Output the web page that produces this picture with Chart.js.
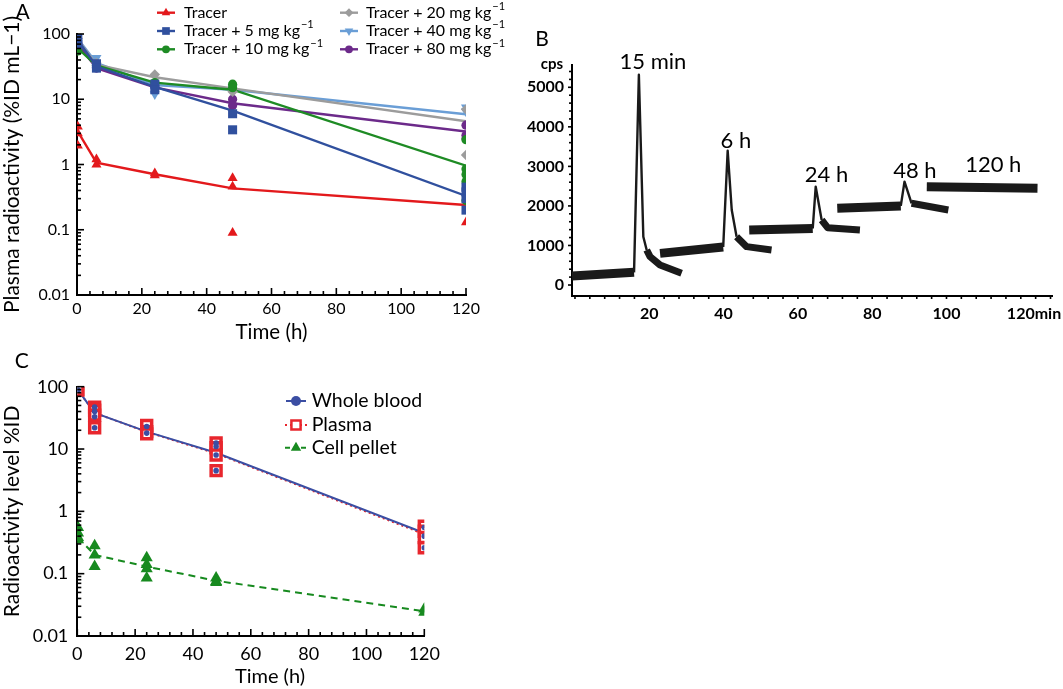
<!DOCTYPE html>
<html><head><meta charset="utf-8">
<script src="https://cdn.jsdelivr.net/npm/chart.js@4.4.1/dist/chart.umd.min.js"></script>
<style>
html,body{margin:0;padding:0;background:#fff}
#wrap{position:relative;width:1063px;height:689px;overflow:hidden;background:#fff}
canvas{position:absolute}
</style></head><body>
<div id="wrap">
<canvas id="chartA" width="520" height="345" style="left:0;top:0"></canvas>
<canvas id="chartB" width="553" height="345" style="left:510px;top:0"></canvas>
<canvas id="chartC" width="470" height="344" style="left:0;top:345px"></canvas>
</div>
<script>
const FONT = 'Lato, "Open Sans", sans-serif';

// ---------------- Panel A data ----------------
const hoursA = [0.25, 6, 24, 48, 120];
const tracerMean = [3.2, 1.07, 0.71, 0.43, 0.24];
const dose5Mean  = [80, 32, 15.5, 6.7, 0.33];
const dose10Mean = [60, 33, 18, 14, 0.96];
const dose20Mean = [82, 34, 21.7, 14.7, 4.6];
const dose40Mean = [85, 36, 16.5, 14, 5.9];
const dose80Mean = [70, 30, 15.2, 8.7, 3.2];
const tracerObs = [[0.25,3.8],[0.25,3.0],[0.25,1.95],[6,1.2],[6,1.0],[24,0.73],[24,0.68],[48,0.62],[48,0.46],[48,0.09],[120,0.13]];
const dose5Obs  = [[0.25,85],[0.25,70],[6,35],[6,30],[24,17],[24,14],[48,6],[48,3.4],[120,0.45],[120,0.38],[120,0.3],[120,0.2]];
const dose10Obs = [[0.25,55],[6,33],[24,18],[48,17],[48,15],[120,2.4],[120,0.85],[120,0.7],[120,0.55],[120,0.28]];
const dose20Obs = [[0.25,85],[6,36],[24,24],[48,13],[120,7],[120,1.4]];
const dose40Obs = [[0.25,95],[6,43],[24,12],[48,15],[120,7.5],[120,6.5]];
const dose80Obs = [[0.25,70],[6,30],[24,16],[48,10],[48,8],[120,4],[120,2.8],[120,2.5]];
const labelsA = ['Tracer','Tracer + 5 mg kg⁻¹','Tracer + 10 mg kg⁻¹','Tracer + 20 mg kg⁻¹','Tracer + 40 mg kg⁻¹','Tracer + 80 mg kg⁻¹'];
const logTickValues = [0.01, 0.1, 1, 10, 100];
const hourTickValues = [0, 20, 40, 60, 80, 100, 120];

// ---------------- Panel B data (radio-HPLC trace, min vs cps) ----------------
const run1Base = [[-0.8,230],[15.9,320]];
const run1Peak = [[15.9,320],[17.2,5316],[18.4,1222],[19.3,885]];
const run1Tail = [[19.3,885],[20.2,717],[22.9,506],[28.7,296]];
const run2Base = [[22.9,800],[39.9,960]];
const run2Peak = [[39.9,960],[41.1,3397],[42.2,1897],[43.5,1222]];
const run2Tail = [[43.5,1222],[46.2,970],[52.9,885]];
const run3Base = [[46.9,1391],[64.0,1430]];
const run3Peak = [[64.0,1430],[64.8,2487],[66.4,1644]];
const run3Tail = [[66.4,1644],[68.0,1450],[76.7,1391]];
const run4Base = [[70.6,1940],[87.7,2000]];
const run4Peak = [[87.7,2000],[88.7,2613],[90.6,2066]];
const run4Tail = [[90.6,2066],[100.5,1897]];
const run5Base = [[94.7,2487],[124.5,2445]];
const minuteTickValues = [20, 40, 60, 80, 100, 120];
const cpsTickValues = [0, 1000, 2000, 3000, 4000, 5000];
const peakLabels = ['15 min', '6 h', '24 h', '48 h', '120 h'];
const peakLabelAt = [[21.0,5640],[43.3,3641],[67.7,2782],[91.5,2890],[112.6,3035]];

// ---------------- Panel C data ----------------
const hoursC = [0.25, 6, 24, 48, 120];
const bloodMean  = [88, 38, 19, 8.7, 0.45];
const plasmaMean = [88, 38, 18.8, 8.5, 0.43];
const pelletMean = [0.38, 0.2, 0.13, 0.077, 0.025];
const bloodObs  = [[0.25,88],[6,47],[6,40],[6,33],[6,22],[24,23],[24,18],[48,12.5],[48,11],[48,8],[48,4.5],[120,0.55],[120,0.4],[120,0.26]];
const plasmaObs = [[0.25,88],[6,47],[6,42],[6,35],[6,22],[24,24],[24,19],[24,17.5],[48,12.5],[48,10.5],[48,8],[48,4.5],[120,0.58],[120,0.48],[120,0.38],[120,0.26]];
const pelletObs = [[0.25,0.55],[0.25,0.45],[0.25,0.38],[0.25,0.35],[6,0.28],[6,0.2],[6,0.13],[24,0.18],[24,0.14],[24,0.12],[24,0.085],[48,0.085],[48,0.075],[48,0.072],[120,0.027],[120,0.024]];
const labelsC = ['Whole blood', 'Plasma', 'Cell pellet'];

// ---------------- helpers ----------------
const toXY = pairs => pairs.map(([x, y]) => ({x, y}));
const zipXY = (xs, ys) => xs.map((x, i) => ({x, y: ys[i]}));

function drawTextSup(ctx, text, x, y, size) {
  const m = text.match(/^(.*?)(⁻¹)$/);
  ctx.font = size + 'px ' + FONT;
  ctx.textAlign = 'left'; ctx.textBaseline = 'middle';
  if (!m) { ctx.fillText(text, x, y); return; }
  ctx.fillText(m[1], x, y);
  const w = ctx.measureText(m[1]).width;
  ctx.font = Math.round(size * 0.68) + 'px ' + FONT;
  ctx.fillText('−1', x + w + 1, y - size * 0.38);
}

function marker(ctx, style, rot, r, x, y, fill, stroke, bw) {
  ctx.save();
  ctx.fillStyle = fill; ctx.strokeStyle = stroke; ctx.lineWidth = bw;
  Chart.helpers.drawPoint(ctx, {pointStyle: style, rotation: rot, radius: r, borderWidth: bw}, x, y);
  ctx.restore();
}

function seg(ctx, x1, y1, x2, y2) {
  ctx.beginPath(); ctx.moveTo(x1, y1); ctx.lineTo(x2, y2); ctx.stroke();
}

function logMinor(min, max) {
  const out = [];
  for (let d = min; d < max * 1.001; d *= 10) {
    for (let k = 1; k <= 9; k++) { const v = +(k * d).toPrecision(3); if (v <= max * 1.0001) out.push([v, k === 1]); }
  }
  return out;
}

// tick marks drawn through each chart's own scales
function tickPlugin(name, spec) {
  return {
    id: 'ticks' + name,
    afterDraw(chart) {
      const ctx = chart.ctx, xs = chart.scales.x, ys = chart.scales.y, a = chart.chartArea;
      ctx.save();
      ctx.fillStyle = '#000';
      spec.xMarks.forEach(mk => {
        const px = xs.getPixelForValue(mk[0]);
        const len = mk[1] ? spec.xMajor : spec.xMinor;
        ctx.fillRect(px - 0.8, spec.xDir < 0 ? a.bottom - len : a.bottom, 1.6, len);
      });
      spec.yMarks.forEach(mk => {
        const py = ys.getPixelForValue(mk[0]);
        const len = mk[1] ? spec.yMajor : spec.yMinor;
        ctx.fillRect(spec.yDir < 0 ? a.left - len : a.left, py - 0.8, len, 1.6);
      });
      ctx.restore();
    }
  };
}

function decor(cfg) {
  return {
    id: 'decor' + cfg.name,
    afterDraw(chart) {
      const ctx = chart.ctx, xs = chart.scales.x, ys = chart.scales.y, a = chart.chartArea;
      ctx.save();
      if (cfg.extra) cfg.extra(chart, ctx, xs, ys, a);
      ctx.font = cfg.letterSize + 'px ' + FONT;
      ctx.textAlign = 'center'; ctx.textBaseline = 'middle';
      ctx.fillStyle = '#000';
      ctx.fillText(cfg.letter, cfg.letterX, cfg.letterY);
      ctx.restore();
    }
  };
}

function fixedWidth(w) { return s => { s.width = w; }; }
function fixedHeight(h) { return s => { s.height = h; }; }
const setTicks = vals => s => { s.ticks = vals.map(v => ({value: v})); };

// ---------------- Chart A ----------------
const colA = ['#E3191C', '#30509E', '#1E8B24', '#9C9C9C', '#6A9ED6', '#6C2A8A'];
const styleA = [['triangle',0,5.8],['rect',0,6.4],['circle',0,4.6],['rectRot',0,5.2],['triangle',180,5.8],['circle',0,4.6]];
const meansA = [tracerMean, dose5Mean, dose10Mean, dose20Mean, dose40Mean, dose80Mean];
const obsA = [tracerObs, dose5Obs, dose10Obs, dose20Obs, dose40Obs, dose80Obs];
const dsA = [];
meansA.forEach((mean, i) => {
  dsA.push({label: labelsA[i], data: zipXY(hoursA, mean), showLine: true, borderColor: colA[i], backgroundColor: colA[i],
    borderWidth: 2.4, pointRadius: 0, order: 10 + i});
  dsA.push({label: labelsA[i] + ' (individual)', data: toXY(obsA[i]), showLine: false, pointStyle: styleA[i][0], pointRotation: styleA[i][1],
    pointRadius: styleA[i][2], backgroundColor: colA[i], borderColor: colA[i], borderWidth: 0, order: 5 + i});
});
const hourMarks = []; for (let v = 0; v <= 120; v += 4) hourMarks.push([v, v % 20 === 0]);

new Chart(document.getElementById('chartA'), {
  type: 'scatter',
  data: {datasets: dsA},
  options: {
    responsive: false, animation: false, devicePixelRatio: 1,
    layout: {padding: {left: 0, top: 34, right: 54, bottom: 0}},
    plugins: {legend: {display: false}, tooltip: {enabled: false}},
    scales: {
      x: {type: 'linear', min: 0, max: 120, afterBuildTicks: setTicks(hourTickValues), afterFit: fixedHeight(50),
        grid: {display: false, drawTicks: false}, border: {display: true, color: '#000', width: 2},
        ticks: {font: {family: FONT, size: 16}, color: '#000', padding: 4, maxRotation: 0, autoSkip: false},
        title: {display: true, text: 'Time (h)', font: {family: FONT, size: 20.5}, color: '#000', padding: 0}},
      y: {type: 'logarithmic', min: 0.01, max: 100, afterBuildTicks: setTicks(logTickValues), afterFit: fixedWidth(77),
        grid: {display: false, drawTicks: false}, border: {display: true, color: '#000', width: 2},
        ticks: {font: {family: FONT, size: 16}, color: '#000', padding: 7, autoSkip: false, callback: v => String(v)},
        title: {display: true, text: 'Plasma radioactivity (%ID mL−1)', font: {family: FONT, size: 21}, color: '#000', padding: {top: 0, bottom: 0}}}
    }
  },
  plugins: [
    tickPlugin('A', {xMarks: hourMarks, xMajor: 7, xMinor: 4, xDir: -1, yMarks: logMinor(0.01, 100), yMajor: 7, yMinor: 4, yDir: 1}),
    decor({name: 'A', letter: 'A', letterX: 22.5, letterY: 12, letterSize: 21,
    extra: (chart, ctx) => {
      const cols = [[157, 175, 166, 184], [340, 358, 349, 366]];
      const rows = [12.7, 31, 49.3];
      labelsA.forEach((lab, i) => {
        const c = cols[Math.floor(i / 3)], y = rows[i % 3];
        ctx.strokeStyle = colA[i]; ctx.lineWidth = 2.4;
        seg(ctx, c[0], y, c[1], y);
        marker(ctx, styleA[i][0], styleA[i][1], styleA[i][2] * 0.85, c[2], y, colA[i], colA[i], 0);
        ctx.fillStyle = '#000';
        drawTextSup(ctx, lab, c[3], y, 16);
      });
    }})]
});

// ---------------- Chart B ----------------
const thick = 9, thin = 2.4;
const runSets = [
  [run1Base, thick], [run1Peak, thin], [run1Tail, 7],
  [run2Base, thick], [run2Peak, thin], [run2Tail, 7],
  [run3Base, thick], [run3Peak, thin], [run3Tail, 7],
  [run4Base, thick], [run4Peak, thin], [run4Tail, 7],
  [run5Base, thick]
];
const dsB = runSets.map(([pts, w], i) => ({label: 'run' + i, data: toXY(pts), showLine: true, borderColor: '#1a1a1a', backgroundColor: '#1a1a1a',
  borderWidth: w, pointRadius: 0, borderJoinStyle: 'round', borderCapStyle: 'butt'}));
const minMarks = []; for (let v = 0; v <= 128; v += 4) minMarks.push([v, v % 20 === 0]);
const cpsMarks = []; for (let v = 0; v <= 5400; v += 200) cpsMarks.push([v, v % 1000 === 0]);

new Chart(document.getElementById('chartB'), {
  type: 'scatter',
  data: {datasets: dsB},
  options: {
    responsive: false, animation: false, devicePixelRatio: 1,
    layout: {padding: {left: 0, top: 65, right: 11, bottom: 0}},
    plugins: {legend: {display: false}, tooltip: {enabled: false}},
    scales: {
      x: {type: 'linear', min: -0.8, max: 128.4, afterBuildTicks: setTicks(minuteTickValues), afterFit: fixedHeight(49),
        grid: {display: false, drawTicks: false}, border: {display: true, color: '#000', width: 2},
        ticks: {font: {family: FONT, size: 16, weight: 'bold'}, color: '#000', padding: 8, maxRotation: 0, autoSkip: false, callback: v => String(v)}},
      y: {type: 'linear', min: -278, max: 5564, afterBuildTicks: setTicks(cpsTickValues), afterFit: fixedWidth(62),
        grid: {display: false, drawTicks: false}, border: {display: true, color: '#000', width: 2},
        ticks: {font: {family: FONT, size: 16, weight: 'bold'}, color: '#000', padding: 8, autoSkip: false, callback: v => String(v)}}
    }
  },
  plugins: [
    tickPlugin('B', {xMarks: minMarks, xMajor: 3, xMinor: 3, xDir: 1, yMarks: cpsMarks, yMajor: 4, yMinor: 3, yDir: -1}),
    decor({name: 'B', letter: 'B', letterX: 32, letterY: 39, letterSize: 21,
    extra: (chart, ctx, xs, ys, a) => {
      ctx.fillStyle = '#000';
      ctx.font = 'bold 15px ' + FONT; ctx.textAlign = 'right'; ctx.textBaseline = 'middle';
      ctx.fillText('cps', a.left - 9, 64);
      ctx.font = 'bold 16px ' + FONT; ctx.textAlign = 'left';
      const lastV = minuteTickValues[minuteTickValues.length - 1];
      const px = xs.getPixelForValue(lastV) + ctx.measureText(String(lastV)).width / 2;
      ctx.fillText('min', px, a.bottom + 17.5);
      ctx.font = '22px ' + FONT; ctx.textAlign = 'center';
      peakLabels.forEach((t, i) => ctx.fillText(t, xs.getPixelForValue(peakLabelAt[i][0]), ys.getPixelForValue(peakLabelAt[i][1])));
    }})]
});

// ---------------- Chart C ----------------
const colC = ['#3B4EA3', '#E8262D', '#178A1F'];
const dsC = [
  {label: labelsC[0] + ' (individual)', data: toXY(bloodObs), showLine: false, pointStyle: 'circle', pointRadius: 2.8,
    backgroundColor: colC[0], borderColor: colC[0], borderWidth: 0, order: 1},
  {label: labelsC[1] + ' (individual)', data: toXY(plasmaObs), showLine: false, pointStyle: 'rect', pointRadius: 7,
    backgroundColor: '#fff', borderColor: colC[1], borderWidth: 3.5, order: 2},
  {label: labelsC[0], data: zipXY(hoursC, bloodMean), showLine: true, borderColor: colC[0], borderWidth: 2, pointRadius: 0, order: 3},
  {label: labelsC[1], data: zipXY(hoursC, plasmaMean), showLine: true, borderColor: colC[1], borderWidth: 2, borderDash: [2, 3], pointRadius: 0, order: 4},
  {label: labelsC[2] + ' (individual)', data: toXY(pelletObs), showLine: false, pointStyle: 'triangle', pointRadius: 7,
    backgroundColor: colC[2], borderColor: colC[2], borderWidth: 0, order: 5},
  {label: labelsC[2], data: zipXY(hoursC, pelletMean), showLine: true, borderColor: colC[2], borderWidth: 2, borderDash: [7, 5], pointRadius: 0, order: 6}
];

new Chart(document.getElementById('chartC'), {
  type: 'scatter',
  data: {datasets: dsC},
  options: {
    responsive: false, animation: false, devicePixelRatio: 1,
    layout: {padding: {left: 0, top: 41.7, right: 45.7, bottom: 0}},
    plugins: {legend: {display: false}, tooltip: {enabled: false}},
    scales: {
      x: {type: 'linear', min: 0, max: 120, afterBuildTicks: setTicks(hourTickValues), afterFit: fixedHeight(53),
        grid: {display: false, drawTicks: false}, border: {display: true, color: '#000', width: 2},
        ticks: {font: {family: FONT, size: 18}, color: '#000', padding: 7, maxRotation: 0, autoSkip: false},
        title: {display: false}},
      y: {type: 'logarithmic', min: 0.01, max: 100, afterBuildTicks: setTicks(logTickValues), afterFit: fixedWidth(77.3),
        grid: {display: false, drawTicks: false}, border: {display: true, color: '#000', width: 2},
        ticks: {font: {family: FONT, size: 18}, color: '#000', padding: 9, autoSkip: false, callback: v => String(v)},
        title: {display: true, text: 'Radioactivity level %ID', font: {family: FONT, size: 21}, color: '#000', padding: {top: 0, bottom: 0}}}
    }
  },
  plugins: [
    tickPlugin('C', {xMarks: hourMarks, xMajor: 7, xMinor: 4, xDir: -1, yMarks: logMinor(0.01, 100), yMajor: 7, yMinor: 4, yDir: 1}),
    decor({name: 'C', letter: 'C', letterX: 21.7, letterY: 16.7, letterSize: 21,
    extra: (chart, ctx) => {
      ctx.fillStyle = '#000';
      ctx.font = '20px ' + FONT; ctx.textAlign = 'center'; ctx.textBaseline = 'middle';
      ctx.fillText('Time (h)', 270, 332);
      const rows = [56, 80, 102.7];
      ctx.strokeStyle = colC[0]; ctx.lineWidth = 2; ctx.setLineDash([]);
      seg(ctx, 286, rows[0], 306, rows[0]);
      marker(ctx, 'circle', 0, 5, 296, rows[0], colC[0], colC[0], 0);
      ctx.strokeStyle = colC[1]; ctx.setLineDash([2, 3]);
      seg(ctx, 285, rows[1], 307, rows[1]);
      ctx.setLineDash([]);
      marker(ctx, 'rect', 0, 6.5, 296, rows[1], '#fff', colC[1], 2.5);
      ctx.strokeStyle = colC[2]; ctx.setLineDash([5, 3]);
      seg(ctx, 285, rows[2], 307, rows[2]);
      ctx.setLineDash([]);
      marker(ctx, 'triangle', 0, 6, 296, rows[2], colC[2], colC[2], 0);
      ctx.fillStyle = '#000';
      labelsC.forEach((t, i) => drawTextSup(ctx, t, 311.7, rows[i], 19.5));
    }})]
});
</script>
</body></html>
